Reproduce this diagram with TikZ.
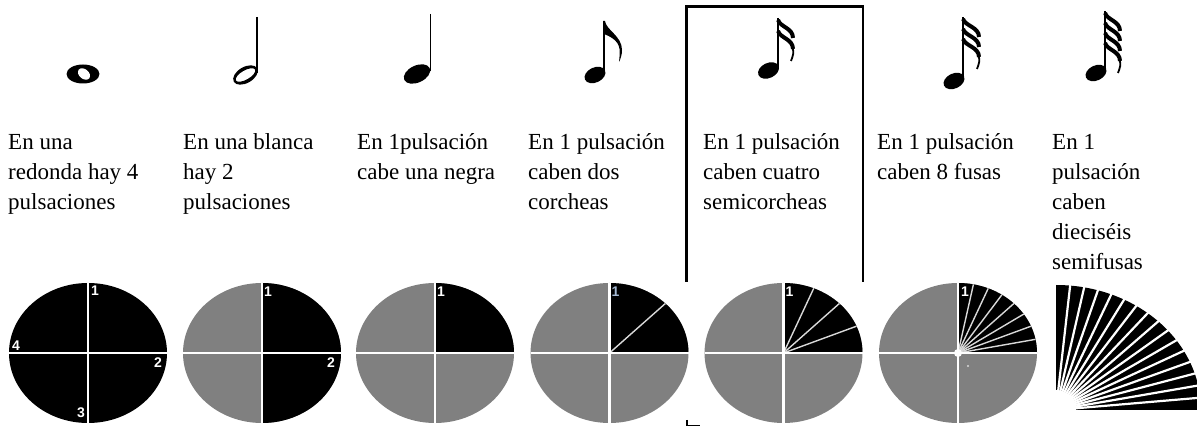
\documentclass[tikz,border=0pt]{standalone}
\usepackage{fontspec}
\setmainfont{Liberation Serif}
\newfontfamily\numfont{Liberation Sans}
\definecolor{piegray}{RGB}{128,128,128}
\definecolor{numblue}{RGB}{165,185,210}
\tikzset{
  lbl/.style={anchor=base west, inner sep=0pt, font=\fontsize{23}{28}\selectfont},
  sep/.style={draw=white, line width=2.4pt},
  slice/.style={draw=white!85!black, line width=1.4pt},
  num/.style={text=white, font=\numfont\bfseries\fontsize{14}{14}\selectfont, inner sep=0pt},
  stemline/.style={line width=1.8pt},
  flagline/.style={line width=4pt},
  tailline/.style={line width=1.8pt},
  boxline/.style={line width=2.2pt}
}
\newcommand\noteflags[5]{% sx, sy, n, gap, dx
  \foreach \i in {1,...,#3} {
    \pgfmathsetmacro\yy{#2-(\i-1)*#4}
    \draw[flagline] (#1,\yy) .. controls (#1+2,\yy-7) and (#1+#5,\yy-8) .. (#1+#5,\yy-18);
  }
  \pgfmathsetmacro\ye{#2-(#3-1)*#4-18}
  \draw[tailline] (#1+#5,\ye) .. controls (#1+#5+0.5,\ye-5) .. (#1+#5-2,\ye-12);
}
\begin{document}
\begin{tikzpicture}[x=1pt,y=1pt]
\useasboundingbox (0,0) rectangle (1197,-427);
\clip (0,0) rectangle (1197,-427);

% ---------- notes ----------
% whole note
\fill (83,-74) ellipse [x radius=16.5, y radius=9.5];
\fill[white, rotate around={-40:(84,-74)}] (84,-74) ellipse [x radius=6.8, y radius=4.8];
% half note
\fill[even odd rule, rotate around={30:(245.5,-75)}] (245.5,-75) ellipse [x radius=13.5, y radius=8]
      (245.5,-75) ellipse [x radius=11, y radius=4.6];
\draw[stemline] (257.3,-17) -- (257.3,-73);
% quarter note
\fill[rotate around={25:(417,-74)}] (417,-74) ellipse [x radius=14, y radius=8.5];
\draw[stemline] (430.5,-14) -- (430.5,-71);
% eighth note
\fill[rotate around={25:(595,-75)}] (595,-75) ellipse [x radius=11, y radius=7.5];
\draw[stemline] (604,-21) -- (604,-72);
\fill (603.2,-21) -- (605,-21) .. controls (606,-30) and (622,-36) .. (622,-50)
      .. controls (622,-55) and (620.5,-59) .. (619,-62)
      .. controls (619.5,-57) and (620,-53) .. (619.5,-49)
      .. controls (618.5,-40) and (609,-36) .. (604,-34) -- cycle;
% sixteenth
\fill[rotate around={25:(768.5,-70.5)}] (768.5,-70.5) ellipse [x radius=11, y radius=7.5];
\draw[stemline] (778,-18) -- (778,-68);
\noteflags{778}{-20}{2}{11}{15}
% thirty-second
\fill[rotate around={25:(954,-81)}] (954,-81) ellipse [x radius=11, y radius=7.5];
\draw[stemline] (963,-17) -- (963,-79);
\noteflags{963}{-19}{3}{10}{16}
% sixty-fourth
\fill[rotate around={25:(1096,-73)}] (1096,-73) ellipse [x radius=11, y radius=7.5];
\draw[stemline] (1105,-11) -- (1105,-71);
\noteflags{1105}{-13}{4}{10}{15}

% ---------- box ----------
\draw[boxline] (686.5,-282) -- (686.5,-6.5) -- (863,-6.5) -- (863,-282);
\draw[line width=1.6pt] (687,-420) -- (687,-425.5) -- (700,-425.5);

% ---------- texts ----------
\node[lbl] (t1a) at (8,-150) {En una};
\node[lbl] (t1b) at (8,-180) {redonda hay 4};
\node[lbl] (t1c) at (8,-210) {pulsaciones};
\node[lbl] (t2a) at (183,-150) {En una blanca};
\node[lbl] (t2b) at (183,-180) {hay 2};
\node[lbl] (t2c) at (183,-210) {pulsaciones};
\node[lbl] (t3a) at (357,-150) {En 1pulsación};
\node[lbl] (t3b) at (357,-180) {cabe una negra};
\node[lbl] (t4a) at (528,-150) {En 1 pulsación};
\node[lbl] (t4b) at (528,-180) {caben dos};
\node[lbl] (t4c) at (528,-210) {corcheas};
\node[lbl] (t5a) at (703,-150) {En 1 pulsación};
\node[lbl] (t5b) at (703,-180) {caben cuatro};
\node[lbl] (t5c) at (703,-210) {semicorcheas};
\node[lbl] (t6a) at (877,-150) {En 1 pulsación};
\node[lbl] (t6b) at (877,-180) {caben 8 fusas};
\node[lbl] (t7a) at (1052,-150) {En 1};
\node[lbl] (t7b) at (1052,-180) {pulsación};
\node[lbl] (t7c) at (1052,-210) {caben};
\node[lbl] (t7d) at (1052,-240) {dieciséis};
\node[lbl] (t7e) at (1052,-270) {semifusas};

% ---------- pies ----------
% pie 1: four pulses
\begin{scope}[shift={(88,-353)}]
  \fill[black] (0,0) ellipse [x radius=79, y radius=70];
  \draw[sep] (-79,0) -- (79,0);
  \draw[sep] (0,70) -- (0,-70);
  \node[num] (p1a) at (7,62) {1};
  \node[num] (p1b) at (70,-10) {2};
  \node[num] (p1c) at (-7,-60) {3};
  \node[num] (p1d) at (-72,7) {4};
\end{scope}
% pie 2: half note
\begin{scope}[shift={(262,-353)}]
  \fill[piegray] (0,0) ellipse [x radius=79, y radius=70];
  \fill[black] (0,-70) arc [start angle=-90, end angle=90, x radius=79, y radius=70] -- cycle;
  \draw[sep] (-79,0) -- (79,0);
  \draw[sep] (0,70) -- (0,-70);
  \node[num] (p2a) at (6,61) {1};
  \node[num] (p2b) at (69,-10) {2};
\end{scope}
% pie 3: quarter
\begin{scope}[shift={(435,-353)}]
  \fill[piegray] (0,0) ellipse [x radius=79, y radius=70];
  \fill[black] (0,0) -- (79,0) arc [start angle=0, end angle=90, x radius=79, y radius=70] -- cycle;
  \draw[sep] (-79,0) -- (79,0);
  \draw[sep] (0,70) -- (0,-70);
  \node[num] (p3a) at (6,61) {1};
\end{scope}
% pie 4: eighths
\begin{scope}[shift={(609.5,-353)}]
  \fill[piegray] (0,0) ellipse [x radius=79, y radius=70];
  \fill[black] (0,0) -- (79,0) arc [start angle=0, end angle=90, x radius=79, y radius=70] -- cycle;
  \draw[slice] (0,0) -- (45:79 and 70);
  \draw[sep] (-79,0) -- (79,0);
  \draw[sep] (0,70) -- (0,-70);
  \node[num, text=numblue] (p4a) at (6,61) {1};
\end{scope}
% pie 5: sixteenths
\begin{scope}[shift={(783.5,-353)}]
  \fill[piegray] (0,0) ellipse [x radius=79, y radius=70];
  \fill[black] (0,0) -- (79,0) arc [start angle=0, end angle=90, x radius=79, y radius=70] -- cycle;
  \foreach \t in {22.5,45,67.5} \draw[slice] (0,0) -- (\t:79 and 70);
  \draw[sep] (-79,0) -- (79,0);
  \draw[sep] (0,70) -- (0,-70);
  \node[num] (p5a) at (6,61) {1};
\end{scope}
% pie 6: thirty-seconds
\begin{scope}[shift={(958,-353)}]
  \fill[piegray] (0,0) ellipse [x radius=79, y radius=70];
  \fill[black] (0,0) -- (79,0) arc [start angle=0, end angle=90, x radius=79, y radius=70] -- cycle;
  \foreach \t in {11.25,22.5,...,78.75} \draw[slice] (0,0) -- (\t:79 and 70);
  \fill[white] (0,0) circle (4);
  \draw[sep] (-79,0) -- (79,0);
  \draw[sep] (0,70) -- (0,-70);
  \node[num] (p6a) at (7,61) {1};
  \fill[white!85!black] (10,-13) circle (1.1);
\end{scope}
% fan: sixty-fourths
\begin{scope}[shift={(1056,-410)}]
  \fill[black] (0,0) -- (145,0) arc [start angle=0, end angle=90, x radius=145, y radius=125] -- cycle;
  \foreach \k in {1,...,15} \draw[white, line width=2.2pt] (0,0) -- ({\k*90/16}:150 and 130);
  \fill[white] (0,0) ellipse [x radius=20, y radius=20];
\end{scope}
\end{tikzpicture}
\end{document}
